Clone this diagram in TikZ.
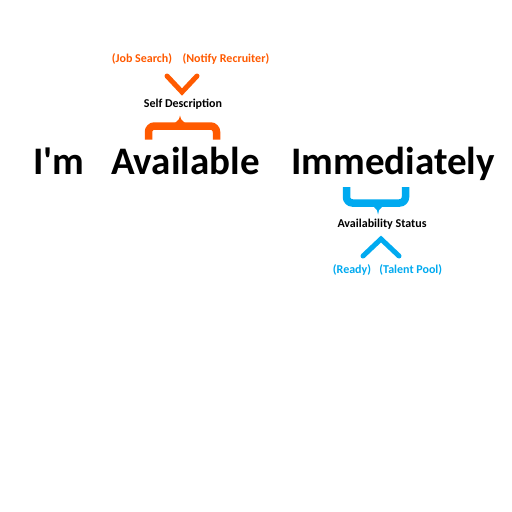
\documentclass[tikz,border=0pt]{standalone}
\usepackage{fontspec}
\setmainfont{Carlito}[Ligatures=TeXOff]
\usetikzlibrary{positioning}
\definecolor{selforange}{RGB}{255,90,0}
\definecolor{statusblue}{RGB}{0,170,240}

\begin{document}
\begin{tikzpicture}[x=1pt,y=-1pt,
    word/.style={font=\fontsize{39}{39}\selectfont\bfseries,inner sep=0pt,anchor=base west},
    tag/.style={font=\fontsize{12}{12}\selectfont\bfseries,inner sep=0pt},
    curly/.style={line width=7.5pt,rounded corners=6pt},
    chevron/.style={line width=5pt,line cap=round}]
    \useasboundingbox[fill=white] (0,0) rectangle (512,512);

    \node[word]  (im)     at (33,174)   {I'm};
    \node[word]  (avail)  at (111,174)  {Available};
    \node[word]  (immed)  at (291,174)  {Immediately};

    % orange part, above
    \draw[curly,selforange] (148.5,139.5) -- (148.5,126) -- (216.5,126) -- (216.5,139.5);
    \fill[selforange] (164,126) .. controls (174,125) and (180,121) .. (180,115.5)
        .. controls (180,121) and (186,125) .. (196,126) -- cycle;
    \node[tag]                    (selfdesc) at (183,104)  {Self Description};
    \draw[chevron,selforange] (167,76) -- (182,92) -- (197,76);
    \node[tag,text=selforange]    (jobsearch) at (142,59)  {(Job Search)};
    \node[tag,text=selforange]    (notify)  [right=10pt of jobsearch] {(Notify Recruiter)};

    % blue part, below
    \draw[curly,statusblue] (346.5,187) -- (346.5,203) -- (405.5,203) -- (405.5,187);
    \fill[statusblue] (362,203) .. controls (372,204) and (378,208) .. (378,214.5)
        .. controls (378,208) and (384,204) .. (394,203) -- cycle;
    \node[tag]                    (status)  at (382,224)   {Availability Status};
    \draw[chevron,statusblue] (363,256) -- (381,239) -- (399,256);
    \node[tag,text=statusblue]    (ready)   at (352,270)   {(Ready)};
    \node[tag,text=statusblue]    (talent)  [right=8pt of ready] {(Talent Pool)};
\end{tikzpicture}
\end{document}
